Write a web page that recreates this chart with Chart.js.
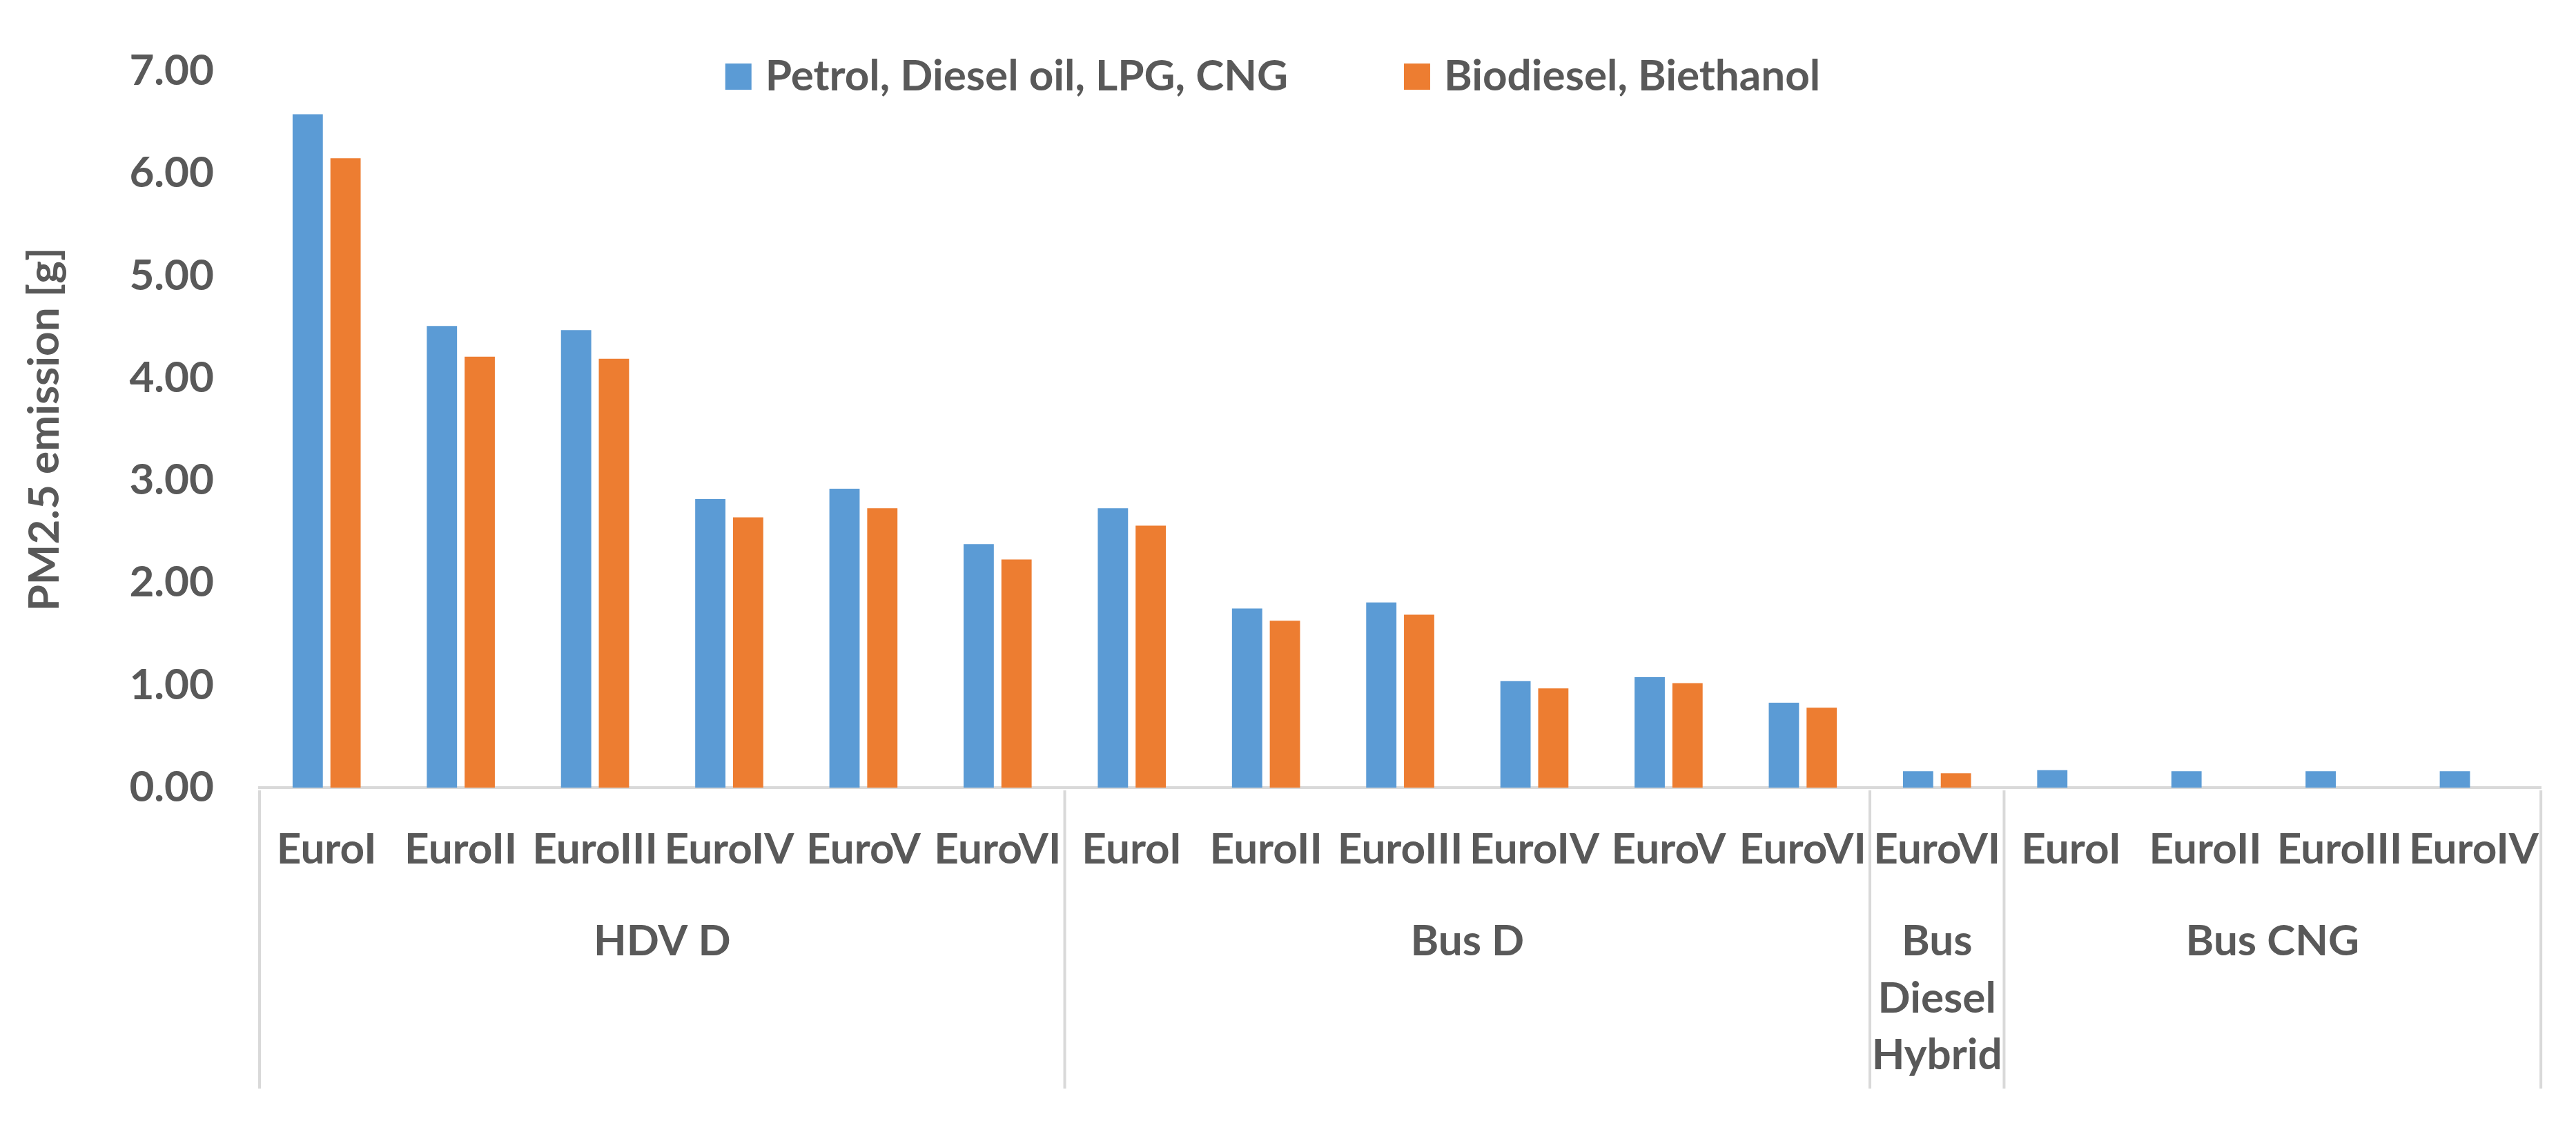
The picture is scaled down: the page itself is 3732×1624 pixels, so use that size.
<!DOCTYPE html>
<html>
<head>
<meta charset="utf-8">
<script src="https://cdn.jsdelivr.net/npm/chart.js@4.4.1/dist/chart.umd.min.js"></script>
<style>
    html, body { margin: 0; padding: 0; background: #fff; }
    #wrap { width: 3732px; height: 1624px; position: relative; }
</style>
</head>
<body>
<div id="wrap"><canvas id="myChart"></canvas></div>
<script>
// data
const categories = [
    'EuroI', 'EuroII', 'EuroIII', 'EuroIV', 'EuroV', 'EuroVI',
    'EuroI', 'EuroII', 'EuroIII', 'EuroIV', 'EuroV', 'EuroVI',
    'EuroVI',
    'EuroI', 'EuroII', 'EuroIII', 'EuroIV'
];
const groups = ['HDV D', 'Bus D', 'Bus Diesel Hybrid', 'Bus CNG'];
const groupSizes = [6, 6, 1, 4];

const seriesNames = ['Petrol, Diesel oil, LPG, CNG', 'Biodiesel, Biethanol'];
const fossilValues = [6.58, 4.51, 4.47, 2.82, 2.92, 2.38, 2.73, 1.75, 1.81, 1.04, 1.08, 0.83, 0.16, 0.17, 0.16, 0.16, 0.16];
const bioValues = [6.15, 4.21, 4.19, 2.64, 2.73, 2.23, 2.56, 1.63, 1.69, 0.97, 1.02, 0.78, 0.14, null, null, null, null];

const yTicks = [0, 1, 2, 3, 4, 5, 6, 7];
const yTitle = 'PM2.5 emission [g]';

const TEXT = '#595959';
const LINE = '#d9d9d9';
const FONT = 'Lato, "Open Sans", sans-serif';
const SIZE = 62;

// group labels under the category ticks + separators
const groupAxis = {
    id: 'groupAxis',
    afterDraw(chart, args, opts) {
        const ctx = chart.ctx;
        const x = chart.scales.x;
        const area = chart.chartArea;
        const half = (x.getPixelForValue(1) - x.getPixelForValue(0)) / 2;
        const y0 = area.bottom + 4;
        const y1 = area.bottom + opts.lineLength;

        ctx.save();
        ctx.strokeStyle = LINE;
        ctx.lineWidth = 4;
        ctx.fillStyle = TEXT;
        ctx.font = 'bold ' + SIZE + 'px ' + FONT;
        ctx.textAlign = 'center';
        ctx.textBaseline = 'middle';

        let idx = 0;
        const edges = [x.getPixelForValue(0) - half];
        groupSizes.forEach((n, g) => {
            const left = x.getPixelForValue(idx) - half;
            const right = x.getPixelForValue(idx + n - 1) + half;
            edges.push(right);

            // word wrap into the group width
            const words = groups[g].split(' ');
            const lines = [];
            let cur = '';
            words.forEach(w => {
                const test = cur ? cur + ' ' + w : w;
                if (cur && ctx.measureText(test).width > right - left - 10) {
                    lines.push(cur);
                    cur = w;
                } else {
                    cur = test;
                }
            });
            lines.push(cur);
            lines.forEach((l, i) => {
                ctx.fillText(l, (left + right) / 2, area.bottom + opts.labelOffset + i * opts.lineGap);
            });
            idx += n;
        });

        edges.forEach(px => {
            ctx.beginPath();
            ctx.moveTo(px, y0);
            ctx.lineTo(px, y1);
            ctx.stroke();
        });
        ctx.restore();
    }
};

// legend drawn inside the plot area, like the original
const innerLegend = {
    id: 'innerLegend',
    afterDraw(chart, args, opts) {
        const ctx = chart.ctx;
        ctx.save();
        ctx.font = 'bold ' + SIZE + 'px ' + FONT;
        ctx.textBaseline = 'middle';
        ctx.textAlign = 'left';
        const items = chart.data.datasets.map(ds => ({
            label: ds.label,
            color: ds.backgroundColor,
            w: ctx.measureText(ds.label).width
        }));
        let total = 0;
        items.forEach((it, i) => {
            total += opts.box + opts.boxGap + it.w;
            if (i > 0) total += opts.itemGap;
        });
        let xPos = opts.centerX - total / 2;
        items.forEach(it => {
            ctx.fillStyle = it.color;
            ctx.fillRect(xPos, opts.y - opts.box / 2, opts.box, opts.box);
            xPos += opts.box + opts.boxGap;
            ctx.fillStyle = TEXT;
            ctx.fillText(it.label, xPos, opts.y);
            xPos += it.w + opts.itemGap;
        });
        ctx.restore();
    }
};

const ctx = document.getElementById('myChart');
const myChart = new Chart(ctx, {
    type: 'bar',
    data: {
        labels: categories,
        datasets: [{
            label: seriesNames[0],
            data: fossilValues,
            backgroundColor: '#5B9BD5',
            categoryPercentage: 0.5635,
            barPercentage: 0.8
        }, {
            label: seriesNames[1],
            data: bioValues,
            backgroundColor: '#ED7D31',
            categoryPercentage: 0.5635,
            barPercentage: 0.8
        }]
    },
    plugins: [groupAxis, innerLegend],
    options: {
        responsive: true,
        maintainAspectRatio: false,
        devicePixelRatio: 1,
        animation: false,
        events: [],
        layout: {
            padding: { top: 64, right: 38, left: 0, bottom: 0 }
        },
        plugins: {
            legend: { display: false },
            tooltip: { enabled: false },
            groupAxis: { labelOffset: 223, lineGap: 82.5, lineLength: 436 },
            innerLegend: { centerX: 1844, y: 111, box: 38, boxGap: 20, itemGap: 168 }
        },
        scales: {
            x: {
                grid: { display: false, drawTicks: false },
                border: { display: true, color: LINE, width: 4 },
                ticks: {
                    color: TEXT,
                    font: { family: FONT, size: SIZE, weight: 'bold' },
                    padding: 53,
                    maxRotation: 0,
                    autoSkip: false
                },
                afterFit: scale => { scale.height = 483; }
            },
            y: {
                min: yTicks[0],
                max: yTicks[yTicks.length - 1],
                grid: { display: false, drawTicks: false },
                border: { display: false },
                afterBuildTicks: scale => {
                    scale.ticks = yTicks.map(v => ({ value: v }));
                },
                ticks: {
                    color: TEXT,
                    font: { family: FONT, size: SIZE, weight: 'bold' },
                    padding: 66,
                    callback: v => Number(v).toFixed(2)
                },
                title: {
                    display: true,
                    text: yTitle,
                    color: TEXT,
                    font: { family: FONT, size: SIZE, weight: 'bold' },
                    padding: { top: 28, bottom: 0 }
                },
                afterFit: scale => { scale.width = 376; }
            }
        }
    }
});
</script>
</body>
</html>
